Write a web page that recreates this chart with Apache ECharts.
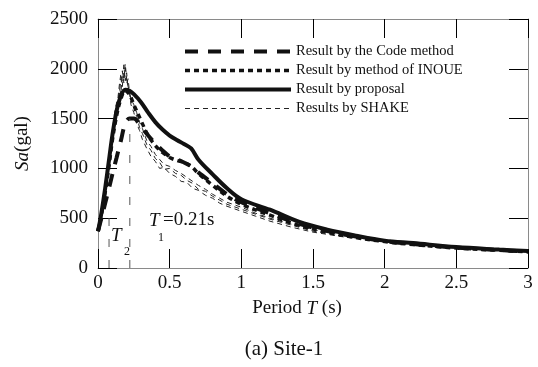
<!DOCTYPE html>
<html>
<head>
<meta charset="utf-8">
<script src="https://cdn.jsdelivr.net/npm/echarts@6/dist/echarts.min.js"></script>
<style>
  html, body { margin: 0; padding: 0; background: #fff; }
  #chart { width: 538px; height: 367px; }
</style>
</head>
<body>
<div id="chart"></div>
<script>
// periods (s) used by the three computed spectra
const periods = [0, 0.02, 0.05, 0.08, 0.1, 0.13, 0.16, 0.19, 0.22, 0.25, 0.3, 0.35, 0.4, 0.45, 0.5, 0.55, 0.6, 0.65, 0.7, 0.8, 0.9, 1.0, 1.2, 1.4, 1.6, 1.8, 2.0, 2.2, 2.5, 2.8, 3.0];
const codeMethod = [370, 480, 650, 820, 940, 1110, 1280, 1450, 1500, 1500, 1420, 1330, 1250, 1180, 1120, 1090, 1060, 1020, 960, 850, 740, 660, 550, 445, 370, 315, 270, 240, 205, 180, 165];
const inoueMethod = [370, 500, 760, 1060, 1280, 1530, 1700, 1780, 1740, 1640, 1480, 1330, 1230, 1160, 1110, 1080, 1060, 1020, 950, 830, 720, 640, 530, 430, 360, 305, 265, 235, 200, 178, 162];
const proposal = [370, 520, 800, 1120, 1330, 1580, 1730, 1790, 1780, 1745, 1665, 1560, 1465, 1390, 1330, 1285, 1245, 1200, 1090, 940, 800, 690, 585, 465, 385, 325, 275, 250, 210, 185, 170];

// periods (s) for the SHAKE response spectra
const shakePeriods = [0, 0.03, 0.06, 0.08, 0.1, 0.12, 0.14, 0.15, 0.16, 0.17, 0.18, 0.19, 0.2, 0.21, 0.22, 0.23, 0.25, 0.27, 0.29, 0.31, 0.34, 0.37, 0.4, 0.43, 0.46, 0.5, 0.54, 0.58, 0.62, 0.66, 0.7, 0.75, 0.8, 0.85, 0.9, 1.0, 1.1, 1.2, 1.35, 1.5, 1.7, 1.9, 2.1, 2.4, 2.7, 3.0];
const shake1 = [370, 560, 850, 1080, 1320, 1540, 1700, 1760, 1900, 1820, 2040, 1880, 1960, 1780, 1720, 1690, 1600, 1520, 1410, 1350, 1240, 1180, 1100, 1060, 990, 1000, 950, 930, 880, 850, 790, 770, 720, 680, 640, 590, 540, 490, 430, 370, 320, 285, 250, 215, 185, 162];
const shake2 = [370, 540, 800, 1000, 1250, 1480, 1640, 1800, 1750, 1980, 1860, 2010, 1850, 1900, 1760, 1640, 1560, 1450, 1380, 1290, 1200, 1120, 1070, 1000, 1010, 950, 920, 870, 860, 800, 780, 730, 700, 650, 620, 570, 520, 470, 410, 360, 315, 280, 245, 210, 182, 158];
const shake3 = [370, 580, 880, 1120, 1380, 1600, 1720, 1850, 1950, 1870, 1930, 2050, 1900, 1820, 1800, 1700, 1640, 1560, 1460, 1400, 1280, 1220, 1140, 1090, 1040, 1020, 980, 950, 910, 870, 830, 790, 740, 700, 660, 610, 550, 500, 440, 385, 330, 290, 255, 220, 190, 165];

// marker lines for T2 and T1
const markerT2 = [[0.077, 0], [0.077, 530]];
const markerT1 = [[0.222, 0], [0.222, 1500]];

const legendNames = ["Result by the Code method", "Result by method of INOUE", "Result by proposal", "Results by SHAKE"];

const serif = "'Liberation Serif', 'Times New Roman', serif";
const pair = (xs, ys) => xs.map((x, i) => [x, ys[i]]);

const chart = echarts.init(document.getElementById("chart"), null, { renderer: "canvas" });

const frameLine = { show: true, onZero: false, lineStyle: { color: "#8a8a8a", width: 1 } };
const innerTick = { show: true, inside: true, length: 19, lineStyle: { color: "#000", width: 1 } };

function shakeSeries(data) {
  return {
    name: legendNames[3],
    type: "line",
    data: pair(shakePeriods, data),
    symbol: "none",
    z: 1,
    lineStyle: { color: "#222", width: 1, type: [5, 4] },
    itemStyle: { color: "#222" },
  };
}

function marker(data) {
  return {
    type: "line",
    data,
    symbol: "none",
    silent: true,
    lineStyle: { color: "#555", width: 1, type: [8, 13] },
  };
}

chart.setOption({
  animation: false,
  backgroundColor: "#fff",
  textStyle: { fontFamily: serif },
  grid: { left: 98, right: 10, top: 19, bottom: 99 },
  legend: {
    data: legendNames,
    orient: "vertical",
    left: 178,
    top: 39,
    itemWidth: 106,
    itemHeight: 14,
    itemGap: 4,
    itemStyle: { opacity: 0 },
    lineStyle: { width: "inherit" },
    textStyle: { fontFamily: serif, fontSize: 14.5, color: "#111", lineHeight: 14 },
    selectedMode: false,
  },
  xAxis: [
    {
      type: "value",
      min: 0,
      max: 3,
      interval: 0.5,
      position: "bottom",
      axisLine: frameLine,
      axisTick: innerTick,
      splitLine: { show: false },
      axisLabel: { color: "#111", fontSize: 19, fontFamily: serif, margin: 6 },
      name: "Period {it|T} (s)",
      nameLocation: "middle",
      nameGap: 31,
      nameTextStyle: {
        color: "#111", fontSize: 19, fontFamily: serif, padding: [0, 32, 0, 0],
        rich: { it: { fontStyle: "italic", fontSize: 19, fontFamily: serif, color: "#111" } },
      },
    },
    {
      type: "value",
      min: 0,
      max: 3,
      interval: 0.5,
      position: "top",
      axisLine: frameLine,
      axisTick: innerTick,
      splitLine: { show: false },
      axisLabel: { show: false },
    },
  ],
  yAxis: [
    {
      type: "value",
      min: 0,
      max: 2500,
      interval: 500,
      position: "left",
      axisLine: frameLine,
      axisTick: innerTick,
      splitLine: { show: false },
      axisLabel: { color: "#111", fontSize: 19, fontFamily: serif, margin: 10, formatter: (v) => String(v) },
      name: "{it|Sa}(gal)",
      nameLocation: "middle",
      nameGap: 66,
      nameTextStyle: {
        color: "#111", fontSize: 19, fontFamily: serif,
        rich: { it: { fontStyle: "italic", fontSize: 19, fontFamily: serif, color: "#111" } },
      },
    },
    {
      type: "value",
      min: 0,
      max: 2500,
      interval: 500,
      position: "right",
      axisLine: frameLine,
      axisTick: innerTick,
      splitLine: { show: false },
      axisLabel: { show: false },
    },
  ],
  series: [
    shakeSeries(shake1),
    shakeSeries(shake2),
    shakeSeries(shake3),
    {
      name: legendNames[0],
      type: "line",
      data: pair(periods, codeMethod),
      symbol: "none",
      smooth: 0.35,
      z: 3,
      lineStyle: { color: "#111", width: 4, type: [13, 10] },
      itemStyle: { color: "#111" },
    },
    {
      name: legendNames[1],
      type: "line",
      data: pair(periods, inoueMethod),
      symbol: "none",
      smooth: 0.35,
      z: 3,
      lineStyle: { color: "#111", width: 3.5, type: [5, 4] },
      itemStyle: { color: "#111" },
    },
    {
      name: legendNames[2],
      type: "line",
      data: pair(periods, proposal),
      symbol: "none",
      smooth: 0.35,
      z: 4,
      lineStyle: { color: "#111", width: 4, type: "solid" },
      itemStyle: { color: "#111" },
    },
    marker(markerT2),
    marker(markerT1),
  ],
  graphic: [
    { type: "text", left: 149, top: 211, style: { text: "T", font: "italic 19px " + serif, fill: "#111" } },
    { type: "text", left: 158, top: 232, style: { text: "1", font: "12px " + serif, fill: "#111" } },
    { type: "text", left: 163, top: 211, style: { text: "=0.21s", font: "19px " + serif, fill: "#111" } },
    { type: "text", left: 111, top: 226, style: { text: "T", font: "italic 19px " + serif, fill: "#111" } },
    { type: "text", left: 124, top: 246, style: { text: "2", font: "12px " + serif, fill: "#111" } },
    { type: "text", x: 284, y: 349, style: { text: "(a) Site-1", font: "21px " + serif, fill: "#111", align: "center", verticalAlign: "middle" } },
  ],
});
</script>
</body>
</html>
